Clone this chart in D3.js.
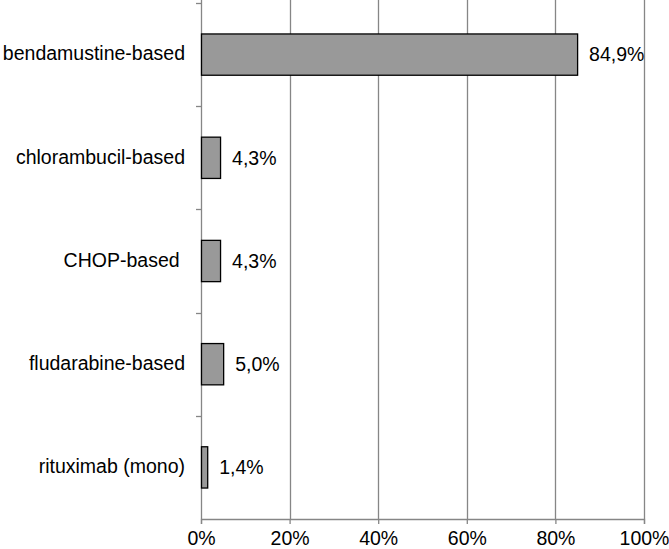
<!DOCTYPE html>
<html>
<head>
<meta charset="utf-8">
<script src="https://cdn.jsdelivr.net/npm/d3@7"></script>
<style>
  body { margin: 0; background: #fff; }
  text { font-family: "Liberation Sans", Arial, sans-serif; }
</style>
</head>
<body>
<div id="chart"></div>
<script>
// chart data
var categories = ["bendamustine-based", "chlorambucil-based", "CHOP-based ", "fludarabine-based", "rituximab (mono)"];
var values = [84.9, 4.3, 4.3, 5.0, 1.4];
var valueLabels = ["84,9%", "4,3%", "4,3%", "5,0%", "1,4%"];
var xTicks = [0, 20, 40, 60, 80, 100];

var margin = {top: 3, right: 25, bottom: 30, left: 201},
    width = 669 - margin.left - margin.right,
    height = 549 - margin.top - margin.bottom;

var svg = d3.select("#chart").append("svg")
    .attr("width", 669)
    .attr("height", 549);

var g = svg.append("g")
    .attr("transform", "translate(" + margin.left + "," + margin.top + ")");

var x = d3.scaleLinear().domain([0, 100]).range([0, width]);
var y = d3.scaleBand().domain(categories).range([0, height]).paddingInner(0.6).paddingOuter(0.3);

// gridlines
g.selectAll(".grid")
    .data(xTicks.slice(1))
    .enter().append("line")
    .attr("class", "grid")
    .attr("x1", function(d) { return Math.round(x(d)) + 0.5; })
    .attr("x2", function(d) { return Math.round(x(d)) + 0.5; })
    .attr("y1", -margin.top)
    .attr("y2", height)
    .attr("stroke", "#868686")
    .attr("stroke-width", 1.3);

// bottom axis
var xAxis = d3.axisBottom(x)
    .tickValues(xTicks)
    .tickFormat(function(d) { return d + "%"; })
    .tickSize(5)
    .tickPadding(7);

var xa = g.append("g")
    .attr("transform", "translate(0," + height + ")")
    .call(xAxis);
xa.select(".domain").attr("stroke", "#868686").attr("stroke-width", 1.3);
xa.selectAll(".tick line").attr("stroke", "#868686").attr("stroke-width", 1.3);
xa.selectAll("text")
    .attr("fill", "#000")
    .style("font-size", "19.5px")
    .attr("font-family", "Liberation Sans, Arial, sans-serif");

// left axis with ticks between categories
var bandStep = height / categories.length;
g.append("line")
    .attr("x1", 0.5).attr("x2", 0.5)
    .attr("y1", -margin.top).attr("y2", height)
    .attr("stroke", "#868686")
    .attr("stroke-width", 1.3);

g.selectAll(".ytick")
    .data(d3.range(categories.length))
    .enter().append("line")
    .attr("class", "ytick")
    .attr("x1", -5).attr("x2", 0)
    .attr("y1", function(i) { return Math.round(i * bandStep) + 0.5; })
    .attr("y2", function(i) { return Math.round(i * bandStep) + 0.5; })
    .attr("stroke", "#868686")
    .attr("stroke-width", 1.3);

// category labels
g.selectAll(".cat")
    .data(categories)
    .enter().append("text")
    .attr("class", "cat")
    .attr("x", -16)
    .attr("y", function(d) { return y(d) + y.bandwidth() / 2; })
    .attr("dy", "0.3em")
    .attr("text-anchor", "end")
    .style("white-space", "pre")
    .style("font-size", "19.5px")
    .attr("fill", "#000")
    .text(function(d) { return d; });

// bars
g.selectAll(".bar")
    .data(values)
    .enter().append("rect")
    .attr("class", "bar")
    .attr("x", x(0) + 0.5)
    .attr("y", function(d, i) { return y(categories[i]); })
    .attr("width", function(d) { return x(d) - x(0); })
    .attr("height", y.bandwidth())
    .attr("fill", "#999999")
    .attr("stroke", "#000")
    .attr("stroke-width", 1.3);

// value labels
g.selectAll(".val")
    .data(values)
    .enter().append("text")
    .attr("class", "val")
    .attr("x", function(d) { return x(d) + 12; })
    .attr("y", function(d, i) { return y(categories[i]) + y.bandwidth() / 2; })
    .attr("dy", "0.35em")
    .style("font-size", "19.5px")
    .attr("fill", "#000")
    .text(function(d, i) { return valueLabels[i]; });
</script>
</body>
</html>
